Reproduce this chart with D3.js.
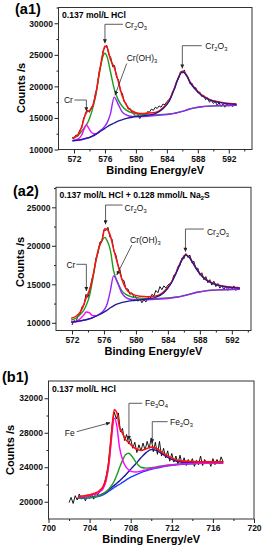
<!DOCTYPE html>
<html>
<head>
<meta charset="utf-8">
<script src="https://cdn.jsdelivr.net/npm/d3@7"></script>
<style>
body { margin: 0; background: #fff; }
svg { display: block; font-family: "Liberation Sans", Arial, sans-serif; }
</style>
</head>
<body>
<script>
// ---- (a1) 0.137 mol/L HCl, Cr 2p ----
const a1Energy = [571.8, 572.5, 573, 573.3, 573.6, 573.9, 574.3, 574.8, 575.3, 575.7, 576.0, 576.3, 576.7, 577.2, 577.7, 578.2, 578.8, 579.5, 580.5, 581.5, 582.5, 583.5, 584.3, 585.0, 585.5, 586.0, 586.5, 587.0, 587.7, 588.5, 589.5, 590.5, 591.5, 593.0];
const a1Cr = [11420, 11650, 12300, 13200, 13900, 13400, 12650, 12450, 12850, null, null, null, null, null, null, null, null, null, null, null, null, null, null, null, null, null, null, null, null, null, null, null, null, null];
const a1Cr2O3 = [11800, 12200, 12900, 13400, 13900, 14600, 16000, 18500, 22200, 24600, 25250, 24600, 22400, 19600, 17900, 16900, 16200, 15800, 15550, 15450, 15480, 15550, 15630, 15760, 15900, 16040, 16230, 16420, 16620, 16770, 16870, 16920, 16965, 17010];
const a1CrOH3 = [11350, 11450, 11550, 11650, 11750, 11850, 12050, 12400, 12900, 13300, 13700, 14300, 15600, 18300, 17200, 16000, 15450, 15250, 15230, 15280, 15380, 15480, 15580, 15730, 15880, 16030, 16230, 16430, 16630, 16780, 16880, 16930, 16980, 17020];
const a1Cr2O3b = [11400, 11500, 11600, 11700, 11800, 11900, 12100, 12400, 12800, 13100, 13350, 13600, 13900, 14200, 14500, 14700, 14920, 15110, 15270, 15450, 15700, 16450, 17650, 19700, 21350, 22300, 21800, 20600, 19500, 18550, 17850, 17500, 17300, 17150];
const a1Envelope = [11800, 12350, 13600, 14900, 15950, 16100, 16600, 18700, 22400, 25000, 26400, 26100, 24300, 23000, 20900, 18600, 16950, 16100, 15700, 15750, 15850, 16600, 17800, 19800, 21450, 22400, 21900, 20700, 19600, 18650, 17950, 17600, 17380, 17200];
const a1RawEnergy = [571.75, 572, 572.25, 572.5, 572.75, 573, 573.25, 573.5, 573.75, 574, 574.25, 574.5, 574.75, 575, 575.25, 575.5, 575.75, 576, 576.25, 576.5, 576.75, 577, 577.25, 577.5, 577.75, 578, 578.25, 578.5, 578.75, 579, 579.25, 579.5, 579.75, 580, 580.25, 580.5, 580.75, 581, 581.25, 581.5, 581.75, 582, 582.25, 582.5, 582.75, 583, 583.25, 583.5, 583.75, 584, 584.25, 584.5, 584.75, 585, 585.25, 585.5, 585.75, 586, 586.25, 586.5, 586.75, 587, 587.25, 587.5, 587.75, 588, 588.25, 588.5, 588.75, 589, 589.25, 589.5, 589.75, 590, 590.25, 590.5, 590.75, 591, 591.25, 591.5, 591.75, 592, 592.25, 592.5, 592.75, 593];
const a1RawCounts = [11900, 11700, 12300, 12100, 13100, 13400, 15000, 15500, 16200, 15900, 16700, 17100, 18800, 19800, 22300, 23500, 25600, 26200, 26500, 25000, 24600, 23100, 23300, 21400, 21100, 19300, 18900, 17500, 17300, 16400, 16500, 15900, 15600, 15200, 15500, 14900, 15300, 15600, 15400, 16000, 15900, 16400, 16200, 16700, 16500, 16900, 16700, 17200, 17100, 17600, 17900, 18200, 19200, 19600, 20800, 21200, 22300, 22100, 22600, 21700, 21500, 20400, 20500, 19700, 19800, 19000, 19100, 18400, 18600, 17900, 18200, 17500, 17800, 17300, 17600, 17000, 17400, 16800, 17200, 16700, 17300, 16900, 17100, 16800, 17300, 17000];

// ---- (a2) 0.137 mol/L HCl + 0.128 mmol/L Na2S, Cr 2p ----
const a2Energy = [571.9, 572.5, 573, 573.4, 573.8, 574.2, 574.6, 575.0, 575.4, 575.8, 576.1, 576.4, 576.8, 577.2, 577.7, 578.2, 578.8, 579.5, 580.5, 581.5, 582.5, 583.5, 584.4, 585.1, 585.7, 586.2, 586.7, 587.2, 587.9, 588.7, 589.6, 590.5, 591.5, 593.0];
const a2Cr = [10110, 10210, 10500, 10930, 11400, 11280, 10930, 10930, null, null, null, null, null, null, null, null, null, null, null, null, null, null, null, null, null, null, null, null, null, null, null, null, null, null];
const a2Cr2O3 = [10350, 10600, 11050, 11530, 12320, 13530, 15680, 18050, 19850, 20750, 21100, 20650, 19450, 16800, 15250, 14220, 13650, 13350, 13200, 13150, 13140, 13190, 13270, 13360, 13470, 13590, 13710, 13850, 14000, 14140, 14230, 14280, 14315, 14345];
const a2CrOH3 = [10080, 10130, 10230, 10310, 10400, 10520, 10680, 10870, 11100, 11400, 11800, 12450, 14150, 16100, 15250, 13920, 13250, 13030, 12980, 12990, 13040, 13120, 13220, 13320, 13440, 13570, 13700, 13840, 14000, 14140, 14240, 14290, 14330, 14350];
const a2Cr2O3b = [10100, 10150, 10250, 10330, 10420, 10530, 10680, 10850, 11050, 11250, 11450, 11650, 11950, 12200, 12450, 12620, 12760, 12870, 12970, 13120, 13320, 13900, 15100, 16600, 18020, 18800, 18480, 17620, 16480, 15620, 15120, 14820, 14640, 14510];
const a2Envelope = [10600, 10850, 11350, 12130, 13300, 14280, 15930, 18130, 19880, 20900, 22200, 22100, 21300, 19600, 17700, 15800, 14350, 13750, 13450, 13400, 13470, 14050, 15200, 16700, 18100, 18850, 18520, 17680, 16540, 15680, 15170, 14860, 14680, 14540];
const a2RawEnergy = [572, 572.25, 572.5, 572.75, 573, 573.25, 573.5, 573.75, 574, 574.25, 574.5, 574.75, 575, 575.25, 575.5, 575.75, 576, 576.25, 576.5, 576.75, 577, 577.25, 577.5, 577.75, 578, 578.25, 578.5, 578.75, 579, 579.25, 579.5, 579.75, 580, 580.25, 580.5, 580.75, 581, 581.25, 581.5, 581.75, 582, 582.25, 582.5, 582.75, 583, 583.25, 583.5, 583.75, 584, 584.25, 584.5, 584.75, 585, 585.25, 585.5, 585.75, 586, 586.25, 586.5, 586.75, 587, 587.25, 587.5, 587.75, 588, 588.25, 588.5, 588.75, 589, 589.25, 589.5, 589.75, 590, 590.25, 590.5, 590.75, 591, 591.25, 591.5, 591.75, 592, 592.25, 592.5, 592.75, 593];
const a2RawCounts = [9700, 10300, 10100, 10900, 11100, 12100, 12300, 13700, 13300, 14300, 15700, 16600, 18400, 19000, 20500, 20600, 22100, 22000, 22400, 21100, 20900, 19300, 18800, 17500, 16900, 15600, 15500, 14400, 14400, 13700, 13900, 13300, 13400, 12800, 13100, 12600, 13000, 12700, 13300, 13100, 13700, 13500, 14200, 13900, 14700, 14300, 14800, 14500, 14900, 15100, 15300, 16200, 16300, 17300, 17400, 18400, 18300, 19000, 18500, 18800, 17800, 18000, 17000, 17100, 16200, 16500, 15600, 16000, 15200, 15600, 14900, 15400, 14700, 15100, 14500, 14900, 14300, 14800, 14200, 14700, 14300, 14800, 14200, 14600, 14400];

// ---- (b1) 0.137 mol/L HCl, Fe 2p ----
const b1Energy = [702.9, 703.5, 704, 704.5, 705, 705.3, 705.6, 705.9, 706.15, 706.4, 706.65, 706.9, 707.2, 707.5, 707.8, 708.1, 708.5, 709, 709.5, 710, 710.5, 711, 711.7, 712.5, 713.5, 714.5, 715.5, 717.0];
const b1Background = [20400, 20420, 20450, 20520, 20650, 20800, 21000, 21250, 21450, 21650, 21850, 22000, 22250, 22480, 22700, 22900, 23120, 23380, 23580, 23760, 23900, 24030, 24170, 24280, 24370, 24420, 24450, 24480];
const b1Fe = [20550, 20600, 20700, 20850, 21150, 21500, 22400, 24500, 27500, 29700, 28800, 26400, 24900, 24100, 23700, 23500, 23450, 23550, 23700, 23850, 23980, 24100, 24230, 24330, 24410, 24450, 24470, 24500];
const b1Fe3O4 = [20420, 20450, 20490, 20570, 20720, 20900, 21150, 21500, 21900, 22400, 23100, 23900, 24800, 25450, 25620, 25300, 24600, 24000, 23900, 23950, 24050, 24150, 24260, 24350, 24420, 24460, 24480, 24500];
const b1Fe2O3 = [20450, 20480, 20520, 20600, 20760, 20930, 21150, 21420, 21650, 21900, 22150, 22400, 22750, 23100, 23500, 23900, 24400, 25100, 25700, 26050, 25950, 25600, 25100, 24700, 24550, 24500, 24500, 24520];
const b1Envelope = [20620, 20690, 20810, 20980, 21330, 21730, 22700, 24920, 28150, 30700, 30350, 28700, 27950, 27200, 26900, 26500, 26150, 25950, 26140, 26330, 26180, 25790, 25250, 24820, 24700, 24650, 24620, 24620];
const b1RawEnergy = [702, 702.2, 702.4, 702.6, 702.8, 703, 703.2, 703.4, 703.6, 703.8, 704, 704.2, 704.4, 704.6, 704.8, 705, 705.2, 705.4, 705.6, 705.8, 706, 706.2, 706.4, 706.6, 706.8, 707, 707.2, 707.4, 707.6, 707.8, 708, 708.2, 708.4, 708.6, 708.8, 709, 709.2, 709.4, 709.6, 709.8, 710, 710.2, 710.4, 710.6, 710.8, 711, 711.2, 711.4, 711.6, 711.8, 712, 712.2, 712.4, 712.6, 712.8, 713, 713.2, 713.4, 713.6, 713.8, 714, 714.2, 714.4, 714.6, 714.8, 715, 715.2, 715.4, 715.6, 715.8, 716, 716.2, 716.4, 716.6, 716.8, 717];
const b1RawCounts = [19900, 20500, 19800, 20700, 20200, 20900, 20300, 20600, 20100, 20800, 20400, 20900, 20300, 21000, 20800, 21300, 21500, 22000, 22900, 24200, 26500, 29000, 30400, 29600, 30300, 28100, 28500, 27100, 27800, 26700, 27300, 26200, 26900, 25700, 26600, 25900, 26800, 26000, 27000, 26200, 27400, 25800, 26900, 25500, 27000, 25300, 26200, 25100, 25900, 24700, 25600, 24600, 25300, 24400, 25400, 24300, 25100, 24200, 24900, 24400, 25000, 24100, 24800, 24300, 25300, 24200, 24900, 24400, 24700, 24100, 25000, 24300, 24900, 24400, 25200, 24600];

// axis ticks
const crXTicks = [572, 576, 580, 584, 588, 592];
const crXMinor = [574, 578, 582, 586, 590, 594];
const a1YTicks = [10000, 15000, 20000, 25000, 30000];
const a1YMinor = [12500, 17500, 22500, 27500, 32500];
const a2YTicks = [10000, 15000, 20000, 25000];
const a2YMinor = [12500, 17500, 22500, 27500];
const b1XTicks = [700, 704, 708, 712, 716, 720];
const b1XMinor = [702, 706, 710, 714, 718];
const b1YTicks = [20000, 24000, 28000, 32000];
const b1YMinor = [22000, 26000, 30000];

const RED = '#ff1010', GREEN = '#1f9a1f', MAGENTA = '#ff00ff', VIOLET = '#9a20ff', NAVY = '#1a1a9a', BLUE = '#1e3cff';

const svg = d3.select('body').append('svg')
    .attr('width', 264)
    .attr('height', 550);

svg.append('defs').append('marker')
    .attr('id', 'arrow')
    .attr('viewBox', '0 0 6 6')
    .attr('refX', 6).attr('refY', 3)
    .attr('markerUnits', 'userSpaceOnUse')
    .attr('markerWidth', 4.5).attr('markerHeight', 4)
    .attr('orient', 'auto')
    .append('path').attr('d', 'M0,0L6,3L0,6Z').attr('fill', '#222');

// writes "Cr_2O_3" style labels with subscripts
function richText(sel, label, size) {
    let shift = 0;
    label.split(/(_\d)/).filter(s => s).forEach(part => {
        const sub = part[0] === '_';
        const target = sub ? 2 : 0;
        sel.append('tspan')
            .attr('dy', target - shift)
            .attr('font-size', sub ? size * 0.68 : null)
            .text(sub ? part.slice(1) : part);
        shift = target;
    });
}

function drawPanel(p) {
    const x = d3.scaleLinear(p.xDomain, [p.left, p.right]);
    const y = d3.scaleLinear(p.yDomain, [p.bottom, p.top]);
    const g = svg.append('g');

    // raw spectrum
    g.append('path')
        .datum(d3.zip(p.rawE, p.rawV))
        .attr('fill', 'none')
        .attr('stroke', '#000')
        .attr('stroke-width', 0.9)
        .attr('d', d3.line().x(d => x(d[0])).y(d => y(d[1])));

    // fitted components
    const fitLine = d3.line()
        .defined(d => d[1] != null)
        .x(d => x(d[0])).y(d => y(d[1]))
        .curve(d3.curveMonotoneX);
    p.series.forEach(s => {
        g.append('path')
            .datum(d3.zip(p.energy, s.values))
            .attr('fill', 'none')
            .attr('stroke', s.color)
            .attr('stroke-width', s.width || 1.4)
            .attr('d', fitLine);
    });

    // frame
    g.append('rect')
        .attr('x', p.left).attr('y', p.top)
        .attr('width', p.right - p.left).attr('height', p.bottom - p.top)
        .attr('fill', 'none').attr('stroke', '#333').attr('stroke-width', 1);

    // axes
    const fmt = d3.format('d');
    const styleAxis = a => {
        a.select('.domain').remove();
        a.selectAll('line').attr('stroke', '#222');
        a.selectAll('text').attr('font-size', 8.5).attr('font-weight', 'bold').attr('fill', '#111').attr('font-family', null);
    };
    g.append('g').attr('transform', `translate(0,${p.bottom})`)
        .call(d3.axisBottom(x).tickValues(p.xTicks).tickSize(4).tickPadding(2).tickFormat(fmt)).call(styleAxis);
    g.append('g').attr('transform', `translate(0,${p.bottom})`)
        .call(d3.axisBottom(x).tickValues(p.xMinor).tickSize(2).tickFormat('')).call(styleAxis);
    g.append('g').attr('transform', `translate(${p.left},0)`)
        .call(d3.axisLeft(y).tickValues(p.yTicks).tickSize(4).tickPadding(1.5).tickFormat(fmt)).call(styleAxis);
    g.append('g').attr('transform', `translate(${p.left},0)`)
        .call(d3.axisLeft(y).tickValues(p.yMinor).tickSize(2).tickFormat('')).call(styleAxis);

    // titles
    g.append('text')
        .attr('x', (p.left + p.right) / 2).attr('y', p.bottom + 24)
        .attr('text-anchor', 'middle').attr('font-size', 11).attr('font-weight', 'bold')
        .text('Binding Energy/eV');
    g.append('text')
        .attr('transform', `translate(${p.yTitleX},${p.yTitleY}) rotate(-90)`)
        .attr('text-anchor', 'middle').attr('font-size', 11).attr('font-weight', 'bold')
        .text('Counts /s');
    g.append('text')
        .attr('x', p.tagX).attr('y', p.tagY)
        .attr('font-size', 14.5).attr('font-weight', 'bold')
        .text(p.tag);
    richText(g.append('text')
        .attr('x', p.left + 3.5).attr('y', p.top + 10.5)
        .attr('font-size', 8.6).attr('font-weight', 'bold'), p.condition, 8.6);

    // peak labels with leader arrows
    p.notes.forEach(n => {
        const tx = x(n.e), ty = y(n.v);
        const pts = n.elbow
            ? [[tx + n.dx, ty + n.dy], [tx, ty + n.dy], [tx, ty]]
            : [[tx + n.dx, ty + n.dy], [tx, ty]];
        g.append('path')
            .attr('d', d3.line()(pts))
            .attr('fill', 'none').attr('stroke', '#333').attr('stroke-width', 0.8)
            .attr('marker-end', 'url(#arrow)');
        richText(g.append('text')
            .attr('x', tx + n.lx).attr('y', ty + n.ly)
            .attr('text-anchor', n.anchor || 'start')
            .attr('font-size', 8.5).attr('fill', '#111'), n.label, 8.5);
    });
}

drawPanel({
    tag: '(a1)', tagX: 15, tagY: 14,
    condition: '0.137 mol/L HCl',
    left: 58.5, right: 252, top: 7.5, bottom: 149.5,
    xDomain: [570, 595], yDomain: [10000, 32500],
    xTicks: crXTicks, xMinor: crXMinor, yTicks: a1YTicks, yMinor: a1YMinor,
    yTitleX: 25, yTitleY: 88,
    rawE: a1RawEnergy, rawV: a1RawCounts, energy: a1Energy,
    series: [
        { values: a1Cr2O3, color: GREEN },
        { values: a1CrOH3, color: VIOLET },
        { values: a1Cr, color: MAGENTA },
        { values: a1Envelope, color: RED, width: 1.5 },
        { values: a1Cr2O3b, color: NAVY, width: 1.3 }
    ],
    notes: [
        { label: 'Cr', e: 573.6, v: 16050, elbow: true, dx: -12, dy: -11.3, lx: -13.5, ly: -8, anchor: 'end' },
        { label: 'Cr_2O_3', e: 576.0, v: 26830, elbow: true, dx: 18, dy: -19, lx: 20, ly: -15.3 },
        { label: 'Cr(OH)_3', e: 577.3, v: 18600, elbow: false, dx: 11.7, dy: -31.7, lx: 11.7, ly: -34 },
        { label: 'Cr_2O_3', e: 586.0, v: 22850, elbow: true, dx: 19.4, dy: -22.7, lx: 23, ly: -19 }
    ]
});

drawPanel({
    tag: '(a2)', tagX: 13, tagY: 196,
    condition: '0.137 mol/L HCl + 0.128 mmol/L Na_2S',
    left: 56, right: 251, top: 187.3, bottom: 330.5,
    xDomain: [570, 594.4], yDomain: [9000, 27600],
    xTicks: crXTicks, xMinor: crXMinor, yTicks: a2YTicks, yMinor: a2YMinor,
    yTitleX: 24, yTitleY: 262,
    rawE: a2RawEnergy, rawV: a2RawCounts, energy: a2Energy,
    series: [
        { values: a2Cr2O3, color: GREEN },
        { values: a2CrOH3, color: VIOLET },
        { values: a2Cr, color: MAGENTA },
        { values: a2Envelope, color: RED, width: 1.5 },
        { values: a2Cr2O3b, color: NAVY, width: 1.3 }
    ],
    notes: [
        { label: 'Cr', e: 573.8, v: 14130, elbow: true, dx: -10, dy: -26.7, lx: -11, ly: -23.5, anchor: 'end' },
        { label: 'Cr_2O_3', e: 576.2, v: 22790, elbow: true, dx: 17, dy: -19.3, lx: 19, ly: -13.3 },
        { label: 'Cr(OH)_3', e: 577.6, v: 16200, elbow: false, dx: 15, dy: -30, lx: 13.3, ly: -32 },
        { label: 'Cr_2O_3', e: 586.2, v: 19230, elbow: true, dx: 18.3, dy: -22.7, lx: 21.5, ly: -16.7 }
    ]
});

drawPanel({
    tag: '(b1)', tagX: 2, tagY: 382,
    condition: '0.137 mol/L HCl',
    left: 48.5, right: 254, top: 381, bottom: 519,
    xDomain: [700, 720], yDomain: [18000, 34000],
    xTicks: b1XTicks, xMinor: b1XMinor, yTicks: b1YTicks, yMinor: b1YMinor,
    yTitleX: 14, yTitleY: 450,
    rawE: b1RawEnergy, rawV: b1RawCounts, energy: b1Energy,
    series: [
        { values: b1Background, color: BLUE },
        { values: b1Fe2O3, color: NAVY },
        { values: b1Fe3O4, color: GREEN },
        { values: b1Fe, color: MAGENTA },
        { values: b1Envelope, color: RED, width: 1.6 }
    ],
    notes: [
        { label: 'Fe', e: 706.0, v: 29165, elbow: false, dx: -33.5, dy: 9, lx: -35.5, ly: 13.3, anchor: 'end' },
        { label: 'Fe_3O_4', e: 707.83, v: 27160, elbow: true, dx: 13.3, dy: -36.7, lx: 16, ly: -33.5 },
        { label: 'Fe_2O_3', e: 710.1, v: 26780, elbow: true, dx: 15.4, dy: -21.6, lx: 17.7, ly: -18.3 }
    ]
});
</script>
</body>
</html>
